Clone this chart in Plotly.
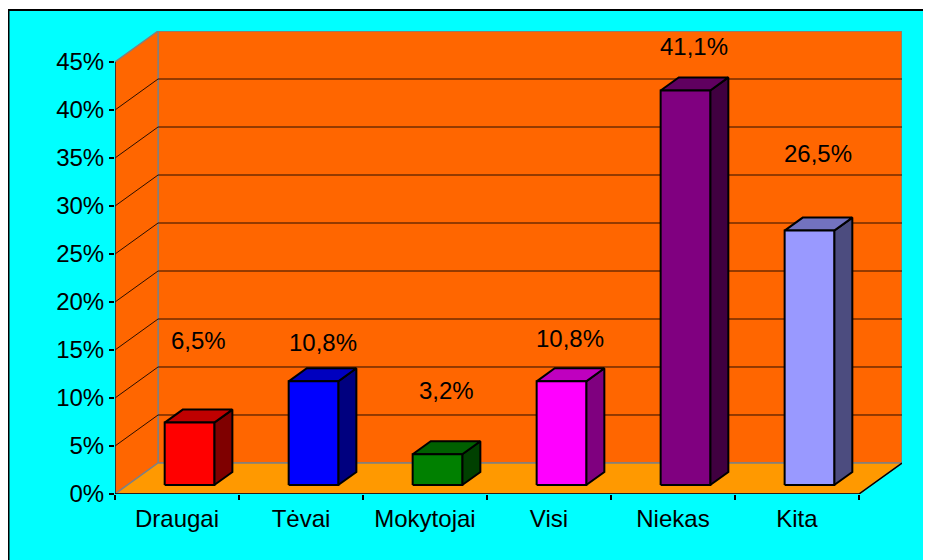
import plotly.graph_objects as go

categories = ["Draugai", "Tėvai", "Mokytojai", "Visi", "Niekas", "Kita"]
values = [6.5, 10.8, 3.2, 10.8, 41.1, 26.5]
value_labels = ["6,5%", "10,8%", "3,2%", "10,8%", "41,1%", "26,5%"]
y_ticks = [0, 5, 10, 15, 20, 25, 30, 35, 40, 45]
y_tick_text = ["0%", "5%", "10%", "15%", "20%", "25%", "30%", "35%", "40%", "45%"]

# stilius
bar_colors = ["#FF0000", "#0000FF", "#008000", "#FF00FF", "#800080", "#9999FF"]
label_offsets = [9.5, 5.0, 7.6, 5.4, 5.5, 9.0]
WALL = "#FF6600"
FLOOR = "#FF9900"
FONT = "Arial, Liberation Sans, sans-serif"
FSIZE = 24

# 3D gylio poslinkis (x kategorijos vienetais, y procentais)
DX = 0.3473
DY = 3.23
Y_MAX = 45
N = len(categories)
D0, D1 = 0.29, 0.71   # stulpelio priekis ir galas gylyje
HALF = 0.2            # pusė stulpelio pločio

# puslapio body turi 8px paraštę, todėl viską pastumiame
PAGE = 8
W, H = 931 - PAGE, 560 - PAGE
L, R, T, B = 115 - PAGE, 931 - 902, 31 - PAGE, 560 - 494
PW, PH = W - L - R, H - T - B


def shade(hex_color, k):
    c = hex_color.lstrip("#")
    r, g, b = (int(c[i:i + 2], 16) for i in (0, 2, 4))
    return "#%02X%02X%02X" % (int(r * k), int(g * k), int(b * k))


def poly(xs, ys, fill, line_color, width=1.0):
    return go.Scatter(x=xs + [xs[0]], y=ys + [ys[0]], mode="lines", fill="toself",
                      fillcolor=fill, line=dict(color=line_color, width=width),
                      hoverinfo="skip", showlegend=False)


def seg(xs, ys, color, width=1.0):
    return go.Scatter(x=xs, y=ys, mode="lines", line=dict(color=color, width=width),
                      hoverinfo="skip", showlegend=False)


fig = go.Figure()

# galinė siena, šoninė siena, grindys
fig.add_trace(poly([DX, N + DX, N + DX, DX], [DY, DY, Y_MAX + DY, Y_MAX + DY], WALL, "#808080", 1.5))
fig.add_trace(poly([0, 0, DX, DX], [0, Y_MAX, Y_MAX + DY, DY], WALL, "#808080", 1.5))
fig.add_trace(poly([0, N, N + DX, DX], [0, 0, DY, DY], FLOOR, "#808080", 1.5))

# tinklelio linijos
for t in y_ticks[1:-1]:
    fig.add_trace(seg([0, DX, N + DX], [t, t + DY, t + DY], "#2A0E00", 1))

# ašių linijos
fig.add_trace(seg([0, 0], [0, Y_MAX], "#222222", 1.5))
fig.add_trace(seg([0, N, N + DX], [0, 0, DY], "black", 1.5))

# stulpeliai
ddx, ddy = DX * (D1 - D0), DY * (D1 - D0)
for i, v in enumerate(values):
    c = bar_colors[i]
    x0 = i + 0.5 - HALF + DX * D0
    x1 = i + 0.5 + HALF + DX * D0
    y0 = DY * D0
    y1 = v + DY * D0
    fig.add_trace(poly([x1, x1 + ddx, x1 + ddx, x1], [y0, y0 + ddy, y1 + ddy, y1], shade(c, 0.5), "black", 2))
    fig.add_trace(poly([x0, x1, x1 + ddx, x0 + ddx], [y1, y1, y1 + ddy, y1 + ddy], shade(c, 0.75), "black", 2))
    fig.add_trace(poly([x0, x1, x1, x0], [y0, y0, y1, y1], c, "black", 2))

# reikšmių etiketės
for i, v in enumerate(values):
    fig.add_annotation(x=i + 0.5 + DX / 2, y=v + label_offsets[i], text=value_labels[i],
                       showarrow=False, font=dict(family=FONT, size=FSIZE, color="black"))

# rėmelis
fig.add_shape(type="rect", xref="paper", yref="paper", layer="below",
              x0=(0.5 - L) / PW, x1=(W + 5 - L) / PW,
              y0=(H - B - (H + 5)) / PH, y1=(H - B - 2) / PH,
              fillcolor="#00FFFF", line=dict(color="black", width=2))

fig.update_layout(
    width=W, height=H,
    margin=dict(l=L, r=R, t=T, b=B),
    paper_bgcolor="white",
    plot_bgcolor="rgba(0,0,0,0)",
    font=dict(family=FONT, size=FSIZE, color="black"),
    showlegend=False,
    xaxis=dict(range=[0, N + DX], showgrid=False, zeroline=False, showline=False,
               tickmode="array", tickvals=[i + 0.5 for i in range(N)], ticktext=categories,
               ticks="", ticklabelstandoff=8,
               minor=dict(tickmode="array", tickvals=list(range(N + 1)), ticks="outside",
                          ticklen=5, tickcolor="black", tickwidth=1.5),
               fixedrange=True),
    yaxis=dict(range=[0, Y_MAX + DY], showgrid=False, zeroline=False, showline=False,
               tickmode="array", tickvals=y_ticks, ticktext=y_tick_text,
               ticks="outside", ticklen=5, tickcolor="black", tickwidth=1.5,
               fixedrange=True),
)

fig.write_html("out.html")
